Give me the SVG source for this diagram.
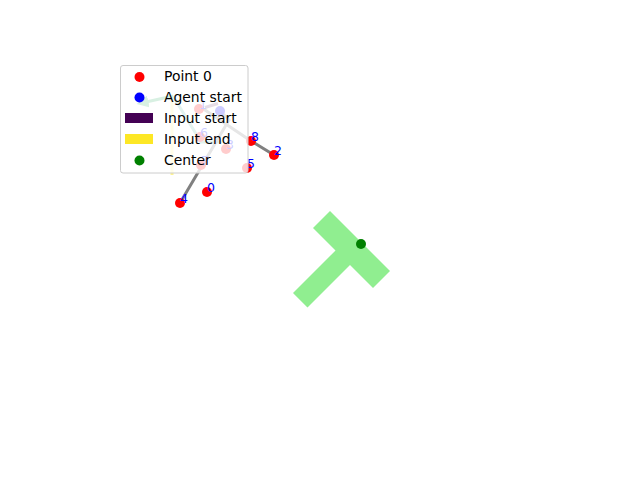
<svg xmlns="http://www.w3.org/2000/svg" width="640" height="480" viewBox="0 0 640 480">
<style>
.pt{fill:#ff0000}
.lbl{fill:#0000ff;font-family:"DejaVu Sans",sans-serif;font-size:12.5px}
.leg{font-family:"DejaVu Sans",sans-serif;font-size:13.9px;fill:#000}
.path{stroke:#808080;stroke-width:3;fill:none;stroke-linecap:round}
</style>
<defs>
<marker id="ah" viewBox="0 0 10 10" refX="2" refY="5" markerWidth="4" markerHeight="4" orient="auto">
<path d="M0,0 L10,5 L0,10 Z" fill="#3cb371"/>
</marker>
</defs>
<rect width="640" height="480" fill="#ffffff"/>
<g id="region">
<polygon points="330,211 390,271 373,288 350,265 307.5,307.5 293,293 335.5,250.5 313,228" fill="#90ee90"/>
</g>
<g id="connectors">
<line x1="172" y1="97" x2="172" y2="175" stroke="#fde725" stroke-width="3" stroke-opacity="0.5"/>
<polyline points="173,96 201,142 222,142" fill="none" stroke="#30a090" stroke-width="3" stroke-opacity="0.7"/>
<line x1="173" y1="96" x2="146" y2="102" stroke="#3cb371" stroke-width="3" marker-end="url(#ah)"/>
<line x1="205" y1="107.5" x2="218" y2="103.5" stroke="#440154" stroke-width="3" stroke-opacity="0.7"/>
<polyline class="path" points="205,110 251,141 274,155"/>
<polyline class="path" points="221,112 229,120 180,203"/>
</g>
<g id="points">
<g id="p0"><circle class="pt" cx="207" cy="192" r="5"/><text class="lbl" x="207" y="192">0</text></g>
<g id="p1"><circle class="pt" cx="199" cy="109" r="5"/><text class="lbl" x="199" y="109">1</text></g>
<g id="p2"><circle class="pt" cx="274" cy="155" r="5"/><text class="lbl" x="274" y="155">2</text></g>
<g id="p3"><circle class="pt" cx="226" cy="149" r="5"/><text class="lbl" x="226" y="149">3</text></g>
<g id="p4"><circle class="pt" cx="180" cy="203" r="5"/><text class="lbl" x="180" y="203">4</text></g>
<g id="p5"><circle class="pt" cx="247" cy="168" r="5"/><text class="lbl" x="247" y="168">5</text></g>
<g id="p6"><circle class="pt" cx="200" cy="137" r="5"/><text class="lbl" x="200" y="137">6</text></g>
<g id="p7"><circle class="pt" cx="201" cy="165" r="5"/><text class="lbl" x="201" y="165">7</text></g>
<g id="p8"><circle class="pt" cx="251" cy="141" r="5"/><text class="lbl" x="251" y="141">8</text></g>
<g id="agent"><circle cx="220" cy="111" r="5" fill="#0000ff"/></g>
<g id="center"><circle cx="361" cy="244" r="5" fill="#008000"/></g>
</g>
<g id="legend">
<rect x="120.5" y="65.5" width="127.5" height="107.5" rx="2.5" fill="#ffffff" fill-opacity="0.8" stroke="#cccccc" stroke-width="1"/>
<circle cx="139.5" cy="77" r="5" fill="#ff0000"/>
<text class="leg" x="164" y="81">Point 0</text>
<circle cx="139.5" cy="97.5" r="5" fill="#0000ff"/>
<text class="leg" x="164" y="102">Agent start</text>
<rect x="125" y="113" width="28" height="10" fill="#440154"/>
<text class="leg" x="164" y="123">Input start</text>
<rect x="125" y="134" width="28" height="10" fill="#fde725"/>
<text class="leg" x="164" y="144">Input end</text>
<circle cx="139.5" cy="160.5" r="5" fill="#008000"/>
<text class="leg" x="164" y="165">Center</text>
</g>
</svg>
